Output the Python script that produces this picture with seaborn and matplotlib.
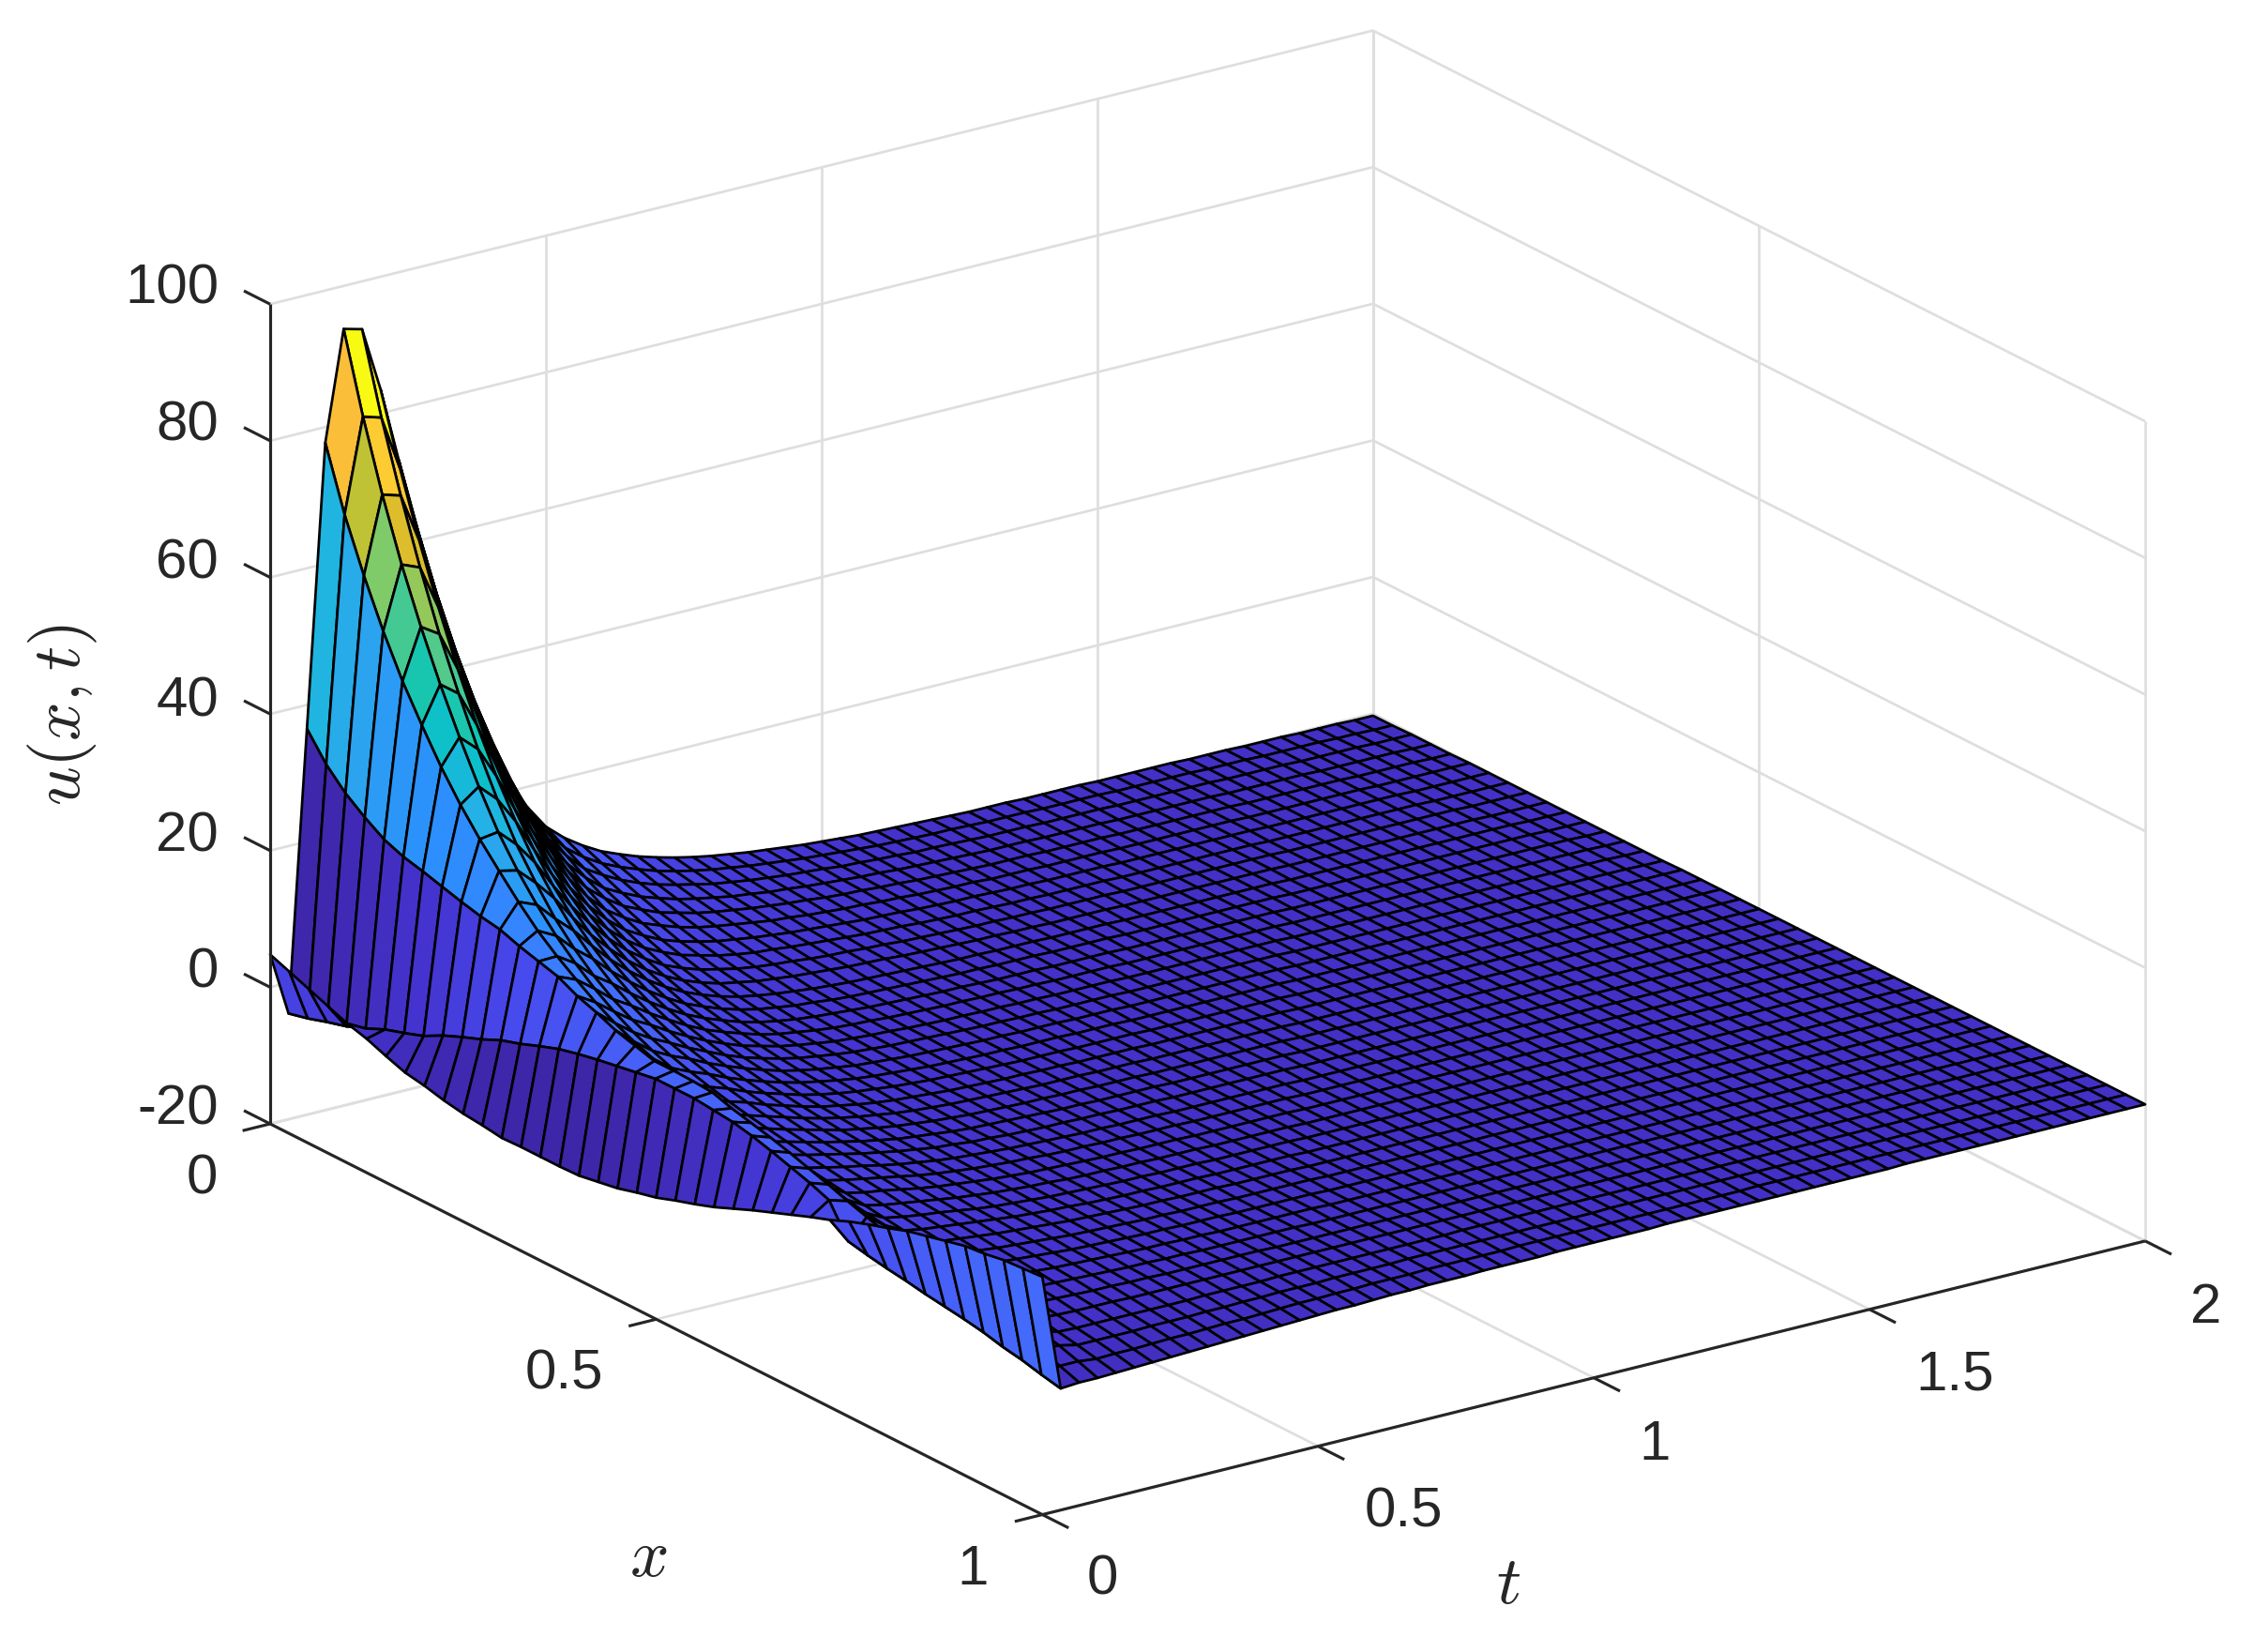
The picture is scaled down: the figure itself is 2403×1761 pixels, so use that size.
import numpy as np
import matplotlib
matplotlib.use('Agg')
import matplotlib.pyplot as plt
import seaborn as sns
from mpl_toolkits.mplot3d import proj3d

x_values = [0, .025, .05, .075, .1, .125, .15, .175, .2, .225, .25, .275, .3, .325, .35, .375, .4, .425, .45, .475,
            .5, .525, .55, .575, .6, .625, .65, .675, .7, .725, .75, .775, .8, .825, .85, .875, .9, .925, .95, .975, 1]
t_values = [0, .0333, .0667, .1, .1333, .1667, .2, .2333, .2667, .3, .3333, .3667, .4, .4333, .4667, .5, .5333, .5667, .6, .6333,
            .6667, .7, .7333, .7667, .8, .8333, .8667, .9, .9333, .9667, 1, 1.0333, 1.0667, 1.1, 1.1333, 1.1667, 1.2, 1.2333, 1.2667, 1.3,
            1.3333, 1.3667, 1.4, 1.4333, 1.4667, 1.5, 1.5333, 1.5667, 1.6, 1.6333, 1.6667, 1.7, 1.7333, 1.7667, 1.8, 1.8333, 1.8667, 1.9, 1.9333, 1.9667, 2]

# u(x,t), one row per t value
u_rows = [
    [4.8,3.7,2.6,1.5,.4, -.4,-1.5,-2.5,-3,-3.7, -4.2,-4.5,-4.9,-4.8,-4.8, -4.8,-4.7,-4.2,-3.7,-2.9, -2.2,-1.2,-.3,.7,1.9, 3.1,4.2,5.3,6.4,7.4, 8.6,9.6,10.5,11.5,12.2, 12.9,13.6,13.9,14.4,14.6, 14.8],
    [-4.5,-3.8,-2.9,-2.1,-1, .3,1.2,2.2,3.7,4.9, 6,7.3,8.2,9.3,10.3, 11,11.6,12.1,12.6,13.1, 13.1,13.1,12.8,12.5,11.9, 11.1,10.2,9.3,8.2,3.6, 3,2.5,2.1,1.6,1.2, .8,.3,-.4,-.9,-1.6, -2.2],
    [36.5,32.7,29.9,27.8,26, 24.9,24.2,23.4,22.6,21.9, 21.4,20.4,19.6,18.8,17.4, 16.4,15.2,14.4,13.6,13.6, 13.5,13.3,12.4,11.7,11, 10.2,9.3,8.4,7.4,6.5, 5.6,4.8,4,3.2,2.6, 2,1.4,.7,-.1,-1, -2],
    [77.7,68.6,61.1,54.4,48.5, 43.5,38.8,34.7,31.1,27.9, 24.8,22,19.7,17.7,15.8, 14.2,12.9,11.8,10.9,10.1, 9.4,8.7,8.1,7.5,7, 6.5,6,5.5,5,4.6, 4.2,3.7,3.2,2.8,2.3, 1.8,1.2,.6,-.1,-1, -2],
    [93.7,82.3,72.3,63.5,55.8, 48.8,42.5,36.7,31.5,27.3, 23.7,20.6,18,15.7,13.8, 12.2,10.9,9.8,8.9,8.1, 7.4,6.8,6.2,5.7,5.2, 4.8,4.4,4,3.6,3.2, 2.8,2.4,2,1.6,1.2, .8,.3,-.2,-.7,-1.3, -1.9],
    [93,81.5,71.5,62.4,54.1, 46.8,40.1,34.2,29,24.8, 21,18,15.5,13.5,11.9, 10.6,9.5,8.6,7.8,7.1, 6.5,6,5.5,5,4.6, 4.2,3.8,3.4,3.1,2.7, 2.4,2,1.7,1.3,1, .6,.2,-.3,-.7,-1.2, -1.8],
    [83.6,73.5,64.3,55.9,48.3, 41.5,35.5,30.3,25.7,21.9, 18.6,15.9,13.7,11.9,10.5, 9.3,8.4,7.6,6.9,6.3, 5.7,5.2,4.8,4.4,4, 3.7,3.4,3,2.7,2.4, 2.1,1.8,1.5,1.2,.8, .5,.1,-.3,-.7,-1.2, -1.7],
    [72.5,63.5,55.4,47.9,41.2, 35.2,30,25.5,21.6,18.4, 15.7,13.4,11.6,10.1,8.9, 7.9,7.1,6.4,5.8,5.3, 4.9,4.5,4.1,3.8,3.5, 3.2,2.9,2.6,2.4,2.1, 1.8,1.5,1.3,1,.7, .4,.1,-.3,-.7,-1.1, -1.6],
    [61.5,53.7,46.7,40.2,34.4, 29.3,24.9,21.1,17.9,15.2, 13,11.2,9.7,8.5,7.5, 6.7,6,5.4,4.9,4.5, 4.1,3.8,3.5,3.2,2.9, 2.7,2.4,2.2,2,1.8, 1.5,1.3,1.1,.8,.6, .3,.1,-.3,-.6,-1, -1.5],
    [51.5,44.9,38.9,33.4,28.4, 24.1,20.4,17.3,14.7,12.5, 10.7,9.2,8,7,6.2, 5.5,5,4.5,4.1,3.7, 3.4,3.1,2.9,2.7,2.4, 2.2,2,1.8,1.6,1.5, 1.3,1.1,.9,.7,.5, .3,0,-.3,-.6,-1, -1.4],
    [42.5,37,32,27.3,23.2, 19.6,16.5,14,11.9,10.1, 8.7,7.5,6.5,5.7,5.1, 4.5,4.1,3.7,3.3,3, 2.8,2.6,2.4,2.2,2, 1.8,1.7,1.5,1.3,1.2, 1.1,.9,.7,.6,.4, .2,0,-.3,-.6,-.9, -1.3],
    [34.5,30,25.8,22,18.6, 15.7,13.2,11.2,9.5,8.1, 7,6,5.3,4.7,4.1, 3.7,3.3,3,2.7,2.5, 2.3,2.1,1.9,1.8,1.6, 1.5,1.4,1.2,1.1,1, .9,.7,.6,.5,.3, .2,0,-.3,-.5,-.8, -1.2],
    [27.5,23.8,20.4,17.4,14.7, 12.4,10.5,8.9,7.6,6.5, 5.6,4.9,4.3,3.8,3.4, 3,2.7,2.5,2.2,2, 1.9,1.7,1.6,1.4,1.3, 1.2,1.1,1,.9,.8, .7,.6,.5,.4,.3, .1,0,-.2,-.5,-.8, -1.1],
    [21.5,18.6,16,13.7,11.6, 9.8,8.3,7.1,6,5.2, 4.5,3.9,3.4,3,2.7, 2.4,2.2,2,1.8,1.6, 1.5,1.4,1.3,1.2,1.1, 1,.9,.8,.7,.7, .6,.5,.4,.3,.2, .1,0,-.2,-.4,-.7, -1],
    [17,14.8,12.8,11,9.4, 8,6.8,5.8,4.9,4.2, 3.6,3.1,2.7,2.4,2.2, 2,1.8,1.6,1.5,1.3, 1.2,1.1,1,.9,.9, .8,.7,.7,.6,.5, .5,.4,.3,.3,.2, .1,0,-.2,-.4,-.6, -.9],
    [13.5,11.8,10.2,8.8,7.6, 6.5,5.5,4.7,4,3.4, 2.9,2.5,2.2,2,1.8, 1.6,1.4,1.3,1.2,1.1, 1,.9,.8,.8,.7, .7,.6,.5,.5,.4, .4,.3,.3,.2,.1, .1,0,-.2,-.3,-.5, -.8],
    [11.2,9.8,8.6,7.4,6.4, 5.5,4.6,4,3.4,2.9, 2.4,2.1,1.8,1.6,1.4, 1.3,1.2,1.1,1,.9, .8,.7,.7,.6,.6, .5,.5,.4,.4,.3, .3,.3,.2,.2,.1, .1,0,-.1,-.3,-.5, -.7],
    [9.4,8.2,7.2,6.2,5.3, 4.6,3.9,3.3,2.8,2.4, 2,1.7,1.5,1.3,1.2, 1.1,1,.9,.8,.7, .7,.6,.6,.5,.5, .4,.4,.4,.3,.3, .3,.2,.2,.1,.1, .1,0,-.1,-.3,-.4, -.7],
    [7.9,7,6.1,5.3,4.6, 3.9,3.3,2.8,2.4,2.1, 1.7,1.5,1.3,1.1,1, .9,.8,.7,.7,.6, .6,.5,.5,.4,.4, .4,.3,.3,.3,.2, .2,.2,.2,.1,.1, 0,0,-.1,-.2,-.4, -.6],
    [6.8,6,5.2,4.5,3.9, 3.4,2.9,2.4,2.1,1.8, 1.4,1.2,1.1,1,.9, .8,.7,.6,.6,.5, .5,.4,.4,.4,.3, .3,.3,.3,.2,.2, .2,.2,.1,.1,.1, 0,0,-.1,-.2,-.3, -.5],
    [5.8,5.1,4.5,3.9,3.4, 3,2.5,2.2,1.9,1.6, 1.2,1,.9,.8,.7, .7,.6,.5,.5,.4, .4,.4,.3,.3,.3, .3,.2,.2,.2,.2, .2,.1,.1,.1,.1, 0,0,-.1,-.2,-.3, -.5],
    [5,4.4,3.9,3.4,3, 2.6,2.2,1.9,1.6,1.4, 1,.9,.8,.7,.6, .6,.5,.4,.4,.4, .3,.3,.3,.3,.2, .2,.2,.2,.2,.1, .1,.1,.1,.1,0, 0,0,-.1,-.2,-.3, -.4],
    [4.3,3.8,3.3,2.9,2.6, 2.2,1.9,1.7,1.4,1.2, .9,.8,.7,.6,.5, .5,.4,.4,.3,.3, .3,.3,.2,.2,.2, .2,.2,.2,.1,.1, .1,.1,.1,.1,0, 0,0,-.1,-.1,-.2, -.4],
    [3.7,3.3,2.9,2.6,2.3, 2,1.7,1.5,1.3,1.1, .8,.7,.6,.5,.5, .4,.4,.3,.3,.3, .3,.2,.2,.2,.2, .2,.1,.1,.1,.1, .1,.1,.1,0,0, 0,0,-.1,-.1,-.2, -.4],
    [3.2,2.9,2.5,2.2,2, 1.7,1.5,1.3,1.1,1, .7,.6,.5,.5,.4, .4,.3,.3,.3,.2, .2,.2,.2,.2,.1, .1,.1,.1,.1,.1, .1,.1,0,0,0, 0,0,-.1,-.1,-.2, -.3],
    [2.8,2.5,2.2,2,1.8, 1.5,1.3,1.1,1,.8, .6,.5,.5,.4,.4, .3,.3,.3,.2,.2, .2,.2,.2,.1,.1, .1,.1,.1,.1,.1, 0,0,0,0,0, 0,0,-.1,-.1,-.2, -.3],
    [2.4,2.2,1.9,1.7,1.5, 1.3,1.1,1,.8,.7, .5,.4,.4,.4,.3, .3,.3,.2,.2,.2, .2,.1,.1,.1,.1, .1,.1,.1,.1,0, 0,0,0,0,0, 0,0,0,-.1,-.2, -.3],
    [2.1,1.9,1.7,1.5,1.3, 1.2,1,.9,.7,.6, .4,.4,.3,.3,.3, .2,.2,.2,.2,.2, .1,.1,.1,.1,.1, .1,.1,.1,0,0, 0,0,0,0,0, 0,0,0,-.1,-.1, -.3],
    [1.8,1.6,1.5,1.3,1.2, 1,.9,.7,.6,.5, .4,.3,.3,.3,.2, .2,.2,.2,.2,.1, .1,.1,.1,.1,.1, .1,.1,0,0,0, 0,0,0,0,0, 0,0,0,-.1,-.1, -.2],
    [1.5,1.4,1.2,1.1,1, .9,.7,.6,.5,.4, .3,.3,.3,.2,.2, .2,.2,.1,.1,.1, .1,.1,.1,.1,.1, .1,0,0,0,0, 0,0,0,0,0, 0,0,0,-.1,-.1, -.2],
    [1.3,1.2,1.1,1,.9, .7,.6,.5,.4,.4, .3,.3,.2,.2,.2, .2,.1,.1,.1,.1, .1,.1,.1,.1,.1, 0,0,0,0,0, 0,0,0,0,0, 0,0,0,-.1,-.1, -.2],
    [1.1,1,.9,.8,.7, .6,.5,.5,.4,.3, .3,.2,.2,.2,.2, .1,.1,.1,.1,.1, .1,.1,.1,.1,0, 0,0,0,0,0, 0,0,0,0,0, 0,0,0,-.1,-.1, -.2],
    [.9,.8,.8,.7,.6, .5,.5,.4,.3,.3, .2,.2,.2,.2,.1, .1,.1,.1,.1,.1, .1,.1,.1,0,0, 0,0,0,0,0, 0,0,0,0,0, 0,0,0,-.1,-.1, -.2],
    [.8,.7,.6,.6,.5, .5,.4,.3,.3,.2, .2,.2,.2,.1,.1, .1,.1,.1,.1,.1, .1,.1,0,0,0, 0,0,0,0,0, 0,0,0,0,0, 0,0,0,0,-.1, -.2],
    [.7,.6,.6,.5,.4, .3,.3,.3,.2,.2, .2,.2,.1,.1,.1, .1,.1,.1,.1,.1, .1,0,0,0,0, 0,0,0,0,0, 0,0,0,0,0, 0,0,0,0,-.1, -.1],
    [.6,.5,.5,.4,.3, .3,.3,.2,.2,.2, .2,.1,.1,.1,.1, .1,.1,.1,.1,.1, 0,0,0,0,0, 0,0,0,0,0, 0,0,0,0,0, 0,0,0,0,-.1, -.1],
    [.5,.5,.4,.3,.3, .3,.2,.2,.2,.2, .1,.1,.1,.1,.1, .1,.1,.1,.1,0, 0,0,0,0,0, 0,0,0,0,0, 0,0,0,0,0, 0,0,0,0,-.1, -.1],
    [.4,.4,.3,.3,.3, .2,.2,.2,.2,.1, .1,.1,.1,.1,.1, .1,.1,.1,0,0, 0,0,0,0,0, 0,0,0,0,0, 0,0,0,0,0, 0,0,0,0,-.1, -.1],
    [.3,.3,.3,.3,.2, .2,.2,.2,.1,.1, .1,.1,.1,.1,.1, .1,.1,0,0,0, 0,0,0,0,0, 0,0,0,0,0, 0,0,0,0,0, 0,0,0,0,-.1, -.1],
    [.3,.3,.3,.2,.2, .2,.2,.1,.1,.1, .1,.1,.1,.1,.1, .1,0,0,0,0, 0,0,0,0,0, 0,0,0,0,0, 0,0,0,0,0, 0,0,0,0,-.1, -.1],
    [.3,.3,.2,.2,.2, .2,.1,.1,.1,.1, .1,.1,.1,.1,.1, 0,0,0,0,0, 0,0,0,0,0, 0,0,0,0,0, 0,0,0,0,0, 0,0,0,0,0, -.1],
    [.2,.2,.2,.2,.2, .1,.1,.1,.1,.1, .1,.1,.1,.1,0, 0,0,0,0,0, 0,0,0,0,0, 0,0,0,0,0, 0,0,0,0,0, 0,0,0,0,0, -.1],
    [.2,.2,.2,.2,.1, .1,.1,.1,.1,.1, .1,.1,.1,0,0, 0,0,0,0,0, 0,0,0,0,0, 0,0,0,0,0, 0,0,0,0,0, 0,0,0,0,0, -.1],
    [.2,.2,.2,.1,.1, .1,.1,.1,.1,.1, .1,.1,0,0,0, 0,0,0,0,0, 0,0,0,0,0, 0,0,0,0,0, 0,0,0,0,0, 0,0,0,0,0, -.1],
    [.2,.2,.1,.1,.1, .1,.1,.1,.1,.1, .1,0,0,0,0, 0,0,0,0,0, 0,0,0,0,0, 0,0,0,0,0, 0,0,0,0,0, 0,0,0,0,0, -.1],
    [.1,.1,.1,.1,.1, .1,.1,.1,.1,.1, 0,0,0,0,0, 0,0,0,0,0, 0,0,0,0,0, 0,0,0,0,0, 0,0,0,0,0, 0,0,0,0,0, -.1],
    [.1,.1,.1,.1,.1, .1,.1,.1,.1,0, 0,0,0,0,0, 0,0,0,0,0, 0,0,0,0,0, 0,0,0,0,0, 0,0,0,0,0, 0,0,0,0,0, -.1],
    [.1,.1,.1,.1,.1, .1,.1,0,0,0, 0,0,0,0,0, 0,0,0,0,0, 0,0,0,0,0, 0,0,0,0,0, 0,0,0,0,0, 0,0,0,0,0, 0],
    [.1,.1,.1,.1,.1, 0,0,0,0,0, 0,0,0,0,0, 0,0,0,0,0, 0,0,0,0,0, 0,0,0,0,0, 0,0,0,0,0, 0,0,0,0,0, 0],
    [.1,.1,.1,0,0, 0,0,0,0,0, 0,0,0,0,0, 0,0,0,0,0, 0,0,0,0,0, 0,0,0,0,0, 0,0,0,0,0, 0,0,0,0,0, 0],
    [0,0,0,0,0, 0,0,0,0,0, 0,0,0,0,0, 0,0,0,0,0, 0,0,0,0,0, 0,0,0,0,0, 0,0,0,0,0, 0,0,0,0,0, 0],
    [0,0,0,0,0, 0,0,0,0,0, 0,0,0,0,0, 0,0,0,0,0, 0,0,0,0,0, 0,0,0,0,0, 0,0,0,0,0, 0,0,0,0,0, 0],
    [0,0,0,0,0, 0,0,0,0,0, 0,0,0,0,0, 0,0,0,0,0, 0,0,0,0,0, 0,0,0,0,0, 0,0,0,0,0, 0,0,0,0,0, 0],
    [-.1,-.1,0,0,0, 0,0,0,0,0, 0,0,0,0,0, 0,0,0,0,0, 0,0,0,0,0, 0,0,0,0,0, 0,0,0,0,0, 0,0,0,0,0, 0],
    [-.1,-.1,-.1,-.1,0, 0,0,0,0,0, 0,0,0,0,0, 0,0,0,0,0, 0,0,0,0,0, 0,0,0,0,0, 0,0,0,0,0, 0,0,0,0,0, 0],
    [-.1,-.1,-.1,-.1,-.1, -.1,0,0,0,0, 0,0,0,0,0, 0,0,0,0,0, 0,0,0,0,0, 0,0,0,0,0, 0,0,0,0,0, 0,0,0,0,0, 0],
    [-.2,-.1,-.1,-.1,-.1, -.1,-.1,-.1,0,0, 0,0,0,0,0, 0,0,0,0,0, 0,0,0,0,0, 0,0,0,0,0, 0,0,0,0,0, 0,0,0,0,0, 0],
    [-.2,-.2,-.1,-.1,-.1, -.1,-.1,-.1,-.1,-.1, 0,0,0,0,0, 0,0,0,0,0, 0,0,0,0,0, 0,0,0,0,0, 0,0,0,0,0, 0,0,0,0,0, 0],
    [-.2,-.2,-.2,-.1,-.1, -.1,-.1,-.1,-.1,-.1, -.1,-.1,0,0,0, 0,0,0,0,0, 0,0,0,0,0, 0,0,0,0,0, 0,0,0,0,0, 0,0,0,0,0, 0],
    [-.3,-.3,-.2,-.2,-.2, -.1,-.1,-.1,-.1,-.1, -.1,-.1,-.1,-.1,-.1, -.1,0,0,0,0, 0,0,0,0,0, 0,0,0,0,0, 0,0,0,0,0, 0,0,0,0,0, 0],
]

x_ticks = [0, 0.5, 1]
t_ticks = [0, 0.5, 1, 1.5, 2]
z_ticks = [-20, 0, 20, 40, 60, 80, 100]
x_tick_labels = ['0', '0.5', '1']
t_tick_labels = ['0', '0.5', '1', '1.5', '2']
z_tick_labels = ['-20', '0', '20', '40', '60', '80', '100']

parula_knots = ['#3e26a8', '#4433ce', '#4748eb', '#4662f9', '#3e79ff', '#2c8ffd', '#2ba3ef', '#22b4e3', '#0dbed0',
                '#0fc5b5', '#3bc99a', '#6acb79', '#9ec851', '#d0bf27', '#f9ba3a', '#fdc933', '#f7e024', '#f9fa14']

W, H = 2403, 1761
GRID = '#dedede'
DARK = '#262626'

sns.set_theme(style='white')
plt.rcParams['font.family'] = ['Liberation Sans', 'DejaVu Sans']
plt.rcParams['mathtext.fontset'] = 'cm'

U = np.array(u_rows, dtype=float)
X, T = np.meshgrid(x_values, t_values)
cmap = sns.blend_palette(parula_knots, n_colors=64, as_cmap=True)
norm = plt.Normalize(U.min(), U.max())
colors = cmap(norm(U))

fig = plt.figure(figsize=((W + 0.01) / 300, (H + 0.01) / 300), dpi=300)
ax = fig.add_axes([0.1, 0.0, 0.8 * H / W, 0.8], projection='3d')
ax.set_proj_type('ortho')
ax.view_init(elev=20.75, azim=-35)
ax.set_box_aspect((1, 1, 0.651))
ax.set_xlim(0, 1)
ax.set_ylim(0, 2)
ax.set_zlim(-20, 100)
ax.set_axis_off()
ax.computed_zorder = False
ax.patch.set_alpha(0)


def line3(xs, ts, zs, color=GRID, lw=0.65, zorder=1):
    ax.plot(xs, ts, zs, color=color, lw=lw, zorder=zorder, solid_capstyle='butt')


# back walls and floor
for z in z_ticks:
    line3([0, 0, 1], [0, 2, 2], [z, z, z])
for t in t_ticks:
    line3([0, 1], [t, t], [-20, -20])
    line3([0, 0], [t, t], [-20, 100])
for x in x_ticks:
    line3([x, x], [0, 2], [-20, -20])
    line3([x, x], [2, 2], [-20, 100])

# one strip per t step, far ones first, so the painter order stays right
n_strips = len(t_values) - 1
for j in range(n_strips - 1, -1, -1):
    ax.plot_surface(X[j:j + 2], T[j:j + 2], U[j:j + 2], facecolors=colors[j:j + 2], rstride=1, cstride=1,
                    shade=False, edgecolor='black', linewidth=0.65, antialiased=True, joinstyle='round',
                    zorder=2 + 0.01 * (n_strips - j))

# dark axis lines and ticks
line3([0, 0], [0, 0], [-20, 100], DARK, 0.75, 3)
line3([0, 1], [0, 0], [-20, -20], DARK, 0.75, 3)
line3([1, 1], [0, 2], [-20, -20], DARK, 0.75, 3)
for z in z_ticks:
    line3([-0.034, 0], [0, 0], [z, z], DARK, 0.75, 3)
for x in x_ticks:
    line3([x, x], [-0.05, 0], [-20, -20], DARK, 0.75, 3)
for t in t_ticks:
    line3([1, 1.034], [t, t], [-20, -20], DARK, 0.75, 3)


def to_px(x, t, z):
    xp, yp, _ = proj3d.proj_transform(x, t, z, ax.get_proj())
    return ax.transData.transform((xp, yp))


# fit the box on the picture: floor corners (x=0,t=0) and (x=1,t=2)
fig.canvas.draw()
a = to_px(0, 0, -20)
b = to_px(1, 2, -20)
a_goal = np.array([288.0, H - 1198.0])
b_goal = np.array([2287.0, H - 1321.0])
s = (b_goal[0] - a_goal[0]) / (b[0] - a[0])
bb = ax.get_position()
side = bb.width * W
cen = np.array([(bb.x0 + bb.width / 2) * W, (bb.y0 + bb.height / 2) * H])
cen2 = a_goal - s * (a - cen)
side2 = side * s
ax.set_position([(cen2[0] - side2 / 2) / W, (cen2[1] - side2 / 2) / H, side2 / W, side2 / H])


def put(px, py, txt, size=14.4, **kw):
    fig.text(px / W, 1 - py / H, txt, fontsize=size, color=DARK, **kw)


z_label_y = [1183, 1037, 892, 748, 601, 454, 308]
for lab, py in zip(z_tick_labels, z_label_y):
    put(233, py, lab, ha='right', va='center')
x_label_xy = [(215, 1257), (601, 1465), (1037, 1673)]
for lab, (px, py) in zip(x_tick_labels, x_label_xy):
    put(px, py, lab, ha='center', va='center')
t_label_xy = [(1175, 1684), (1496, 1612), (1764, 1540), (2084, 1466), (2352, 1394)]
for lab, (px, py) in zip(t_tick_labels, t_label_xy):
    put(px, py, lab, ha='center', va='center')

put(691, 1661, r'$x$', size=17.5, ha='center', va='center')
put(1608, 1690, r'$t$', size=17.5, ha='center', va='center')
put(67, 762, r'$u(x,t)$', size=17.5, ha='center', va='center', rotation=90)

fig.savefig('out.png', dpi=300)
